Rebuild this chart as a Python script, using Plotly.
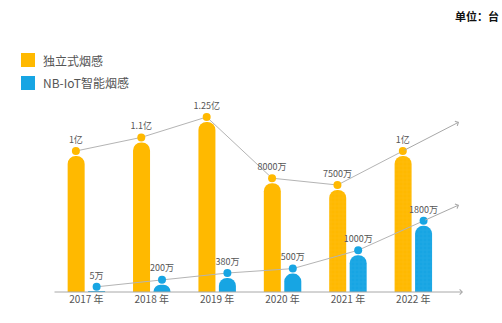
import plotly.graph_objects as go

# Smoke detector shipments, unit: 万台
years = ["2017", "2018", "2019", "2020", "2021", "2022"]
standalone = [10000, 11000, 12500, 8000, 7500, 10000]
nbiot = [5, 200, 380, 500, 1000, 1800]
series_names = ["独立式烟感", "NB-IoT智能烟感"]
forecast = [False, False, False, False, True, True]

ORANGE = "#FFB900"
BLUE = "#17A5E3"
GREY_LINE = "#B4B4B4"
TEXT = "#555555"
FONT = "Noto Sans CJK SC"

Y1_MAX = 20000
Y2_MAX = 7400

# plot-area geometry in pixels, used to place the hand-drawn legend
L, R, T, B = 53, 39, 20, 31
W, H = 502, 323
PW, PH = W - L - R, H - T - B


def px_x(px):
    return (px - L) / PW


def px_y(py):
    return (H - B - py) / PH


def fmt(v):
    if v >= 10000:
        s = f"{v / 10000:.2f}".rstrip("0").rstrip(".")
        return s + "亿"
    return f"{v:g}万"


x = list(range(len(years)))
pad1 = Y1_MAX * 5 / PH
pad2 = Y2_MAX * 5 / PH

fig = go.Figure()

fig.add_trace(go.Bar(
    x=x, y=standalone, name=series_names[0],
    width=0.26, offset=-0.286,
    marker=dict(color=ORANGE, cornerradius=8, line_width=0,
                pattern=dict(shape=["+" if f else "" for f in forecast],
                             fgcolor="rgba(255,255,255,0.22)", size=4,
                             solidity=0.15, fillmode="overlay")),
    showlegend=False, hoverinfo="skip",
))
fig.add_trace(go.Bar(
    x=x, y=nbiot, name=series_names[1], yaxis="y2",
    width=0.26, offset=0.027,
    marker=dict(color=BLUE, cornerradius=8, line_width=0,
                pattern=dict(shape=["+" if f else "" for f in forecast],
                             fgcolor="rgba(255,255,255,0.22)", size=4,
                             solidity=0.15, fillmode="overlay")),
    showlegend=False, hoverinfo="skip",
))

# trend lines with value dots above each bar
fig.add_trace(go.Scatter(
    x=[i - 0.16 for i in x], y=[v + pad1 for v in standalone],
    mode="lines+markers+text", text=[fmt(v) for v in standalone],
    textposition="top center", textfont=dict(size=9, color=TEXT, family=FONT),
    line=dict(color=GREY_LINE, width=1), marker=dict(color=ORANGE, size=8),
    showlegend=False, hoverinfo="skip", cliponaxis=False,
))
fig.add_trace(go.Scatter(
    x=[i + 0.157 for i in x], y=[v + pad2 for v in nbiot], yaxis="y2",
    mode="lines+markers+text", text=[fmt(v) for v in nbiot],
    textposition="top center", textfont=dict(size=9, color=TEXT, family=FONT),
    line=dict(color=GREY_LINE, width=1), marker=dict(color=BLUE, size=8),
    showlegend=False, hoverinfo="skip", cliponaxis=False,
))

arrow = dict(showarrow=True, arrowhead=4, arrowsize=1, arrowwidth=1,
             arrowcolor="#A8A8A8", text="", axref="x", xref="x")
last = len(x) - 1
fig.add_annotation(**arrow, x=5.70, y=12500, yref="y", ayref="y",
                   ax=last - 0.16, ay=standalone[-1] + pad1)
fig.add_annotation(**arrow, x=5.70, y=2370, yref="y2", ayref="y2",
                   ax=last + 0.157, ay=nbiot[-1] + pad2)
# horizontal axis with arrow
fig.add_annotation(**arrow, x=5.76, y=0, yref="y", ayref="y",
                   ax=-0.51, ay=0)

# legend: colour swatches and labels
for name, color, cy in [(series_names[0], ORANGE, 60), (series_names[1], BLUE, 83)]:
    fig.add_shape(type="rect", xref="paper", yref="paper",
                  x0=px_x(21), x1=px_x(35), y0=px_y(cy - 7), y1=px_y(cy + 7),
                  fillcolor=color, line_width=0)
    fig.add_annotation(text=name, xref="paper", yref="paper",
                       x=px_x(41), y=px_y(cy), xanchor="left", yanchor="middle",
                       showarrow=False, font=dict(size=12, color=TEXT, family=FONT))

fig.add_annotation(text="<b>单位：台</b>", xref="paper", yref="paper",
                   x=px_x(501), y=px_y(16), xanchor="right", yanchor="middle",
                   showarrow=False, font=dict(size=11, color="#111", family=FONT))

fig.update_layout(
    width=W, height=H,
    margin=dict(l=L, r=R, t=T, b=B),
    paper_bgcolor="white", plot_bgcolor="white",
    font=dict(family=FONT, color=TEXT),
    barmode="overlay",
    showlegend=False,
    xaxis=dict(range=[-0.51, 5.76], tickvals=x, ticktext=[y + " 年" for y in years],
               showgrid=False, zeroline=False, showline=False, ticks="",
               tickfont=dict(size=10, color=TEXT)),
    yaxis=dict(range=[0, Y1_MAX], visible=False, showgrid=False),
    yaxis2=dict(range=[0, Y2_MAX], overlaying="y", visible=False, showgrid=False),
)

fig.write_html("out.html")
